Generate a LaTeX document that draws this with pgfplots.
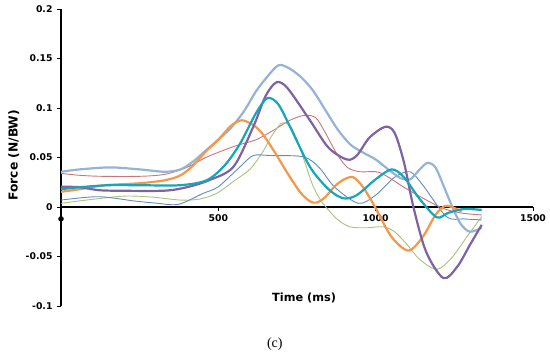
\documentclass[border=0pt]{standalone}
\usepackage{fontspec}
\setmainfont{DejaVu Sans}
\newfontfamily\serifc{Liberation Serif}
\usepackage{pgfplots}
\pgfplotsset{compat=1.18}
\definecolor{cLB}{HTML}{95B3D7}
\definecolor{cPU}{HTML}{7F62A1}
\definecolor{cTE}{HTML}{17A5BA}
\definecolor{cOR}{HTML}{F79646}
\definecolor{cRD}{HTML}{C9757A}
\definecolor{cGR}{HTML}{A9C27E}
\definecolor{cBL}{HTML}{5F8BC0}
\begin{document}
\begin{tikzpicture}
\path[use as bounding box] (-61bp,-49bp) rectangle (489bp,306bp);
\begin{axis}[
  scale only axis, width=472bp, height=297bp,
  xmin=0, xmax=1500, ymin=-0.1, ymax=0.2,
  axis x line=middle, axis y line=left,
  axis line style={-, line width=1.4bp, black},
  xtick={500,1000,1500}, xticklabels={500,1000,1500},
  ytick={-0.1,-0.05,0,0.05,0.1,0.15,0.2},
  yticklabels={-0.1,-0.05,0,0.05,0.1,0.15,0.2},
  tick align=outside, major tick length=4bp,
  tick style={black, line width=1bp},
  ticklabel style={font=\bfseries\fontsize{9.3bp}{10bp}\selectfont},
  xticklabel style={anchor=north, yshift=-0.5bp},
  yticklabel style={anchor=east, xshift=-1bp},
  xlabel={Time (ms)}, ylabel={Force (N/BW)},
  every axis x label/.style={at={(axis description cs:0.515,0.027)}, anchor=center, font=\bfseries\fontsize{11.3bp}{13bp}\selectfont},
  every axis y label/.style={at={(axis description cs:-0.100,0.508)}, rotate=90, anchor=center, font=\bfseries\fontsize{12.3bp}{14bp}\selectfont},
  clip=false,
]
% thin red
\addplot[cRD, line width=0.9bp, smooth] coordinates {
(0,0.034) (60,0.032) (130,0.031) (250,0.031) (330,0.033) (400,0.040) (460,0.050) (548,0.061) (620,0.068) (675,0.0775) (730,0.088) (775,0.0926) (810,0.090) (840,0.075) (876,0.054) (910,0.040) (950,0.0356) (1014,0.0346) (1100,0.018) (1204,0) (1270,-0.006) (1337,-0.008)};
% thin green
\addplot[cGR, line width=0.9bp, smooth] coordinates {
(0,0.0037) (80,0.007) (200,0.011) (290,0.010) (380,0.007) (440,0.008) (495,0.0138) (553,0.027) (600,0.038) (640,0.055) (670,0.072) (700,0.0845) (725,0.083) (750,0.068) (775,0.045) (800,0.022) (825,0.007) (850,-0.003) (880,-0.013) (918,-0.020) (970,-0.021) (1024,-0.020) (1060,-0.025) (1100,-0.038) (1140,-0.053) (1194,-0.063) (1240,-0.052) (1290,-0.030) (1337,-0.0097)};
% thin blue
\addplot[cBL, line width=0.9bp, smooth] coordinates {
(0,0.007) (119,0.0104) (235,0.006) (300,0.004) (373,0.0027) (452,0.0138) (500,0.0205) (569,0.0406) (611,0.052) (664,0.052) (770,0.0507) (820,0.040) (870,0.020) (945,0.0037) (1000,0.012) (1060,0.030) (1109,0.0356) (1150,0.022) (1225,-0.0097) (1280,-0.012) (1337,-0.013)};
% light blue thick
\addplot[cLB, line width=2.2bp, smooth] coordinates {
(0,0.0356) (60,0.038) (156,0.040) (250,0.038) (330,0.0356) (380,0.038) (420,0.046) (460,0.057) (500,0.068) (540,0.080) (580,0.096) (620,0.117) (654,0.131) (690,0.143) (720,0.141) (760,0.132) (800,0.118) (840,0.098) (880,0.078) (920,0.063) (960,0.055) (1000,0.048) (1040,0.038) (1080,0.029) (1110,0.028) (1140,0.038) (1165,0.0446) (1190,0.040) (1215,0.022) (1241,0.002) (1270,-0.017) (1300,-0.025) (1337,-0.021)};
% orange thick
\addplot[cOR, line width=2.2bp, smooth] coordinates {
(0,0.0154) (60,0.018) (140,0.022) (250,0.024) (330,0.027) (380,0.032) (420,0.042) (460,0.056) (500,0.068) (540,0.082) (574,0.0876) (610,0.083) (640,0.074) (680,0.055) (720,0.034) (760,0.015) (790,0.006) (812,0.0044) (840,0.010) (870,0.021) (900,0.028) (929,0.030) (960,0.020) (998,0) (1050,-0.030) (1104,-0.044) (1150,-0.030) (1190,-0.008) (1220,0.001) (1250,-0.001) (1273,-0.0047)};
% purple thick
\addplot[cPU, line width=2.2bp, smooth] coordinates {
(0,0.0205) (60,0.020) (120,0.017) (193,0.0164) (330,0.0165) (400,0.020) (470,0.027) (548,0.0406) (611,0.081) (650,0.112) (685,0.126) (720,0.120) (791,0.0876) (850,0.060) (908,0.048) (940,0.052) (980,0.070) (1030,0.081) (1060,0.075) (1090,0.045) (1120,0) (1160,-0.045) (1215,-0.0718) (1260,-0.060) (1300,-0.038) (1337,-0.018)};
% teal thick
\addplot[cTE, line width=2.2bp, smooth] coordinates {
(0,0.018) (60,0.020) (150,0.022) (250,0.022) (378,0.022) (463,0.027) (520,0.042) (569,0.064) (620,0.095) (656,0.110) (690,0.104) (728,0.081) (791,0.0406) (850,0.018) (897,0.0088) (940,0.012) (1000,0.028) (1051,0.038) (1090,0.030) (1140,0.008) (1194,-0.0104) (1230,-0.006) (1280,-0.002) (1337,-0.003)};
% dot at origin
\addplot[only marks, mark=*, mark size=2.5bp, black] coordinates {(0,-0.012)};
\node[font=\serifc\fontsize{14bp}{16bp}\selectfont] at (axis description cs:0.453,-0.128) {(c)};
\end{axis}
\end{tikzpicture}
\end{document}
